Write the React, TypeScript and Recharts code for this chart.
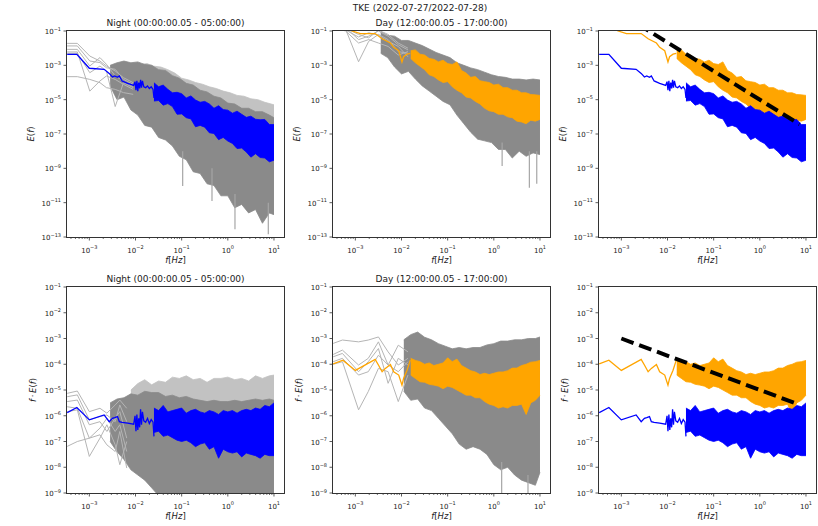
import { ComposedChart, Line, Area, XAxis, YAxis } from 'recharts';

// shared x range (Hz), 10^-3.48 .. 10^1.22
const F_MIN = 10 ** -3.484;
const F_MAX = 10 ** 1.217;

const xMajorExp = [-3, -2, -1, 0, 1];
const xMinorMult = [2, 3, 4, 5, 6, 7, 8, 9];
const topYTickExp = [-13, -11, -9, -7, -5, -3, -1];
const bottomYTickExp = [-9, -8, -7, -6, -5, -4, -3, -2, -1];

// ---- Night, E(f) ----
const nightGrayF = [-3.48, -3.26, -2.99, -2.77, -2.63, -2.44, -2.26, -2.05];
const nightGray1 = [-1.72, -1.72, -2.46, -2.75, -3.04, -3.33, -3.72, -4.01];
const nightGray2 = [-1.87, -1.87, -2.75, -2.84, -3.14, -3.23, -3.82, -4.11];
const nightGray3 = [-2.07, -2.07, -3.04, -2.55, -2.94, -3.62, -3.91, -4.24];
const nightGray4 = [-2.22, -2.22, -4.5, -3.91, -3.62, -3.82, -4.11, -4.4];
const nightGray5 = [-2.3, -2.3, -3.43, -3.04, -3.33, -5.4, -4.01, -4.3];
const nightGray6 = [-3.66, -3.66, -3.82, -4.01, -4.3, -4.4, -4.59, -4.69];

const nightLightF = [-2.05, -1.9, -1.75, -1.6, -1.45, -1.3, -1.15, -1.0, -0.85, -0.7, -0.55, -0.4, -0.25, -0.1, 0.05, 0.2, 0.35, 0.5, 0.65, 0.8, 1.0];
const nightLightHi = [-2.85, -2.95, -2.9, -3.05, -3.1, -3.25, -3.45, -3.75, -3.85, -4.0, -4.1, -4.25, -4.35, -4.5, -4.6, -4.75, -4.8, -4.95, -5.0, -5.15, -5.3];
const nightLightLo = [-4.2, -4.4, -4.6, -4.8, -4.9, -5.0, -5.2, -5.4, -5.5, -5.6, -5.7, -5.8, -5.9, -6.0, -6.05, -6.1, -6.2, -6.25, -6.3, -6.35, -6.44];

const nightDarkF = [-2.55, -2.4, -2.25, -2.1, -1.95, -1.8, -1.65, -1.5, -1.35, -1.2, -1.05, -0.9, -0.75, -0.6, -0.45, -0.3, -0.15, 0, 0.15, 0.3, 0.45, 0.6, 0.75, 0.9, 1.0];
const nightDarkHi = [-3.0, -2.85, -2.75, -2.85, -2.8, -2.95, -3.0, -3.25, -3.3, -3.6, -3.75, -4.05, -4.15, -4.45, -4.55, -4.8, -4.9, -5.2, -5.25, -5.5, -5.5, -5.7, -5.7, -5.9, -6.05];
const nightDarkLo = [-4.2, -5.0, -4.85, -5.6, -5.9, -6.5, -6.6, -7.2, -7.35, -7.7, -8.3, -8.5, -9.2, -9.3, -9.9, -10.0, -10.6, -10.6, -11.3, -11.1, -11.6, -11.4, -12.2, -11.6, -11.7];

const nightSpikeF = [-0.978, -0.343, 0.155, 0.877];
const nightSpikeTop = [-8.0, -9.0, -10.5, -11.0];
const nightSpikeBot = [-10.03, -10.9, -12.55, -12.84];

const blueF = [-3.48, -3.27, -3.0, -2.68, -2.57, -2.5, -2.45, -2.39, -2.35, -2.29, -2.17, -2.04, -2.01, -1.99, -1.97, -1.95, -1.93, -1.91, -1.89, -1.87, -1.85, -1.82, -1.78, -1.74, -1.7, -1.66, -1.62, -1.6];
const blueE = [-2.36, -2.36, -3.17, -3.23, -3.47, -3.68, -3.62, -3.7, -3.62, -3.91, -4.05, -4.17, -3.95, -4.45, -3.9, -4.5, -4.0, -4.35, -3.85, -4.3, -3.9, -4.25, -4.3, -4.2, -4.35, -4.25, -4.4, -4.9];
const blueBandF = [-1.6, -1.5, -1.4, -1.3, -1.2, -1.1, -1.0, -0.9, -0.8, -0.7, -0.6, -0.5, -0.4, -0.3, -0.2, -0.1, 0, 0.1, 0.2, 0.3, 0.4, 0.5, 0.6, 0.7, 0.8, 0.9, 1.0];
const blueBandHi = [-4.01, -4.25, -4.15, -4.4, -4.6, -4.57, -4.65, -4.9, -4.78, -5.02, -5.15, -5.1, -5.25, -5.5, -5.35, -5.58, -5.61, -5.79, -5.67, -5.85, -6.03, -5.96, -6.14, -6.17, -6.15, -6.45, -6.45];
const blueBandLo = [-5.08, -5.05, -5.32, -5.23, -5.4, -5.85, -5.83, -6.05, -6.12, -6.58, -6.5, -6.6, -6.93, -6.97, -7.33, -7.2, -7.41, -7.55, -7.85, -7.82, -8.05, -8.35, -8.15, -8.37, -8.4, -8.62, -8.53];

// ---- Day, E(f) ----
const dayGrayF = [-3.48, -3.21, -2.93, -2.71, -2.5, -2.29, -2.07, -1.86];
const dayGray1 = [-0.5, -0.9, -2.79, -1.6, -1.2, -1.5, -2.2, -2.3];
const dayGray2 = [-0.6, -0.8, -1.5, -1.3, -1.0, -1.3, -1.8, -2.1];
const dayGray3 = [-0.7, -0.95, -1.35, -1.1, -1.25, -1.6, -1.9, -2.5];
const dayGray4 = [-0.8, -1.0, -1.7, -1.5, -1.7, -1.9, -2.4, -2.2];
const dayGray5 = [-0.55, -0.85, -1.2, -1.4, -0.95, -1.2, -1.7, -2.0];

const dayDarkF = [-2.45, -2.3, -2.15, -2.0, -1.85, -1.7, -1.55, -1.4, -1.25, -1.1, -0.95, -0.8, -0.65, -0.5, -0.35, -0.2, -0.05, 0.1, 0.25, 0.4, 0.55, 0.7, 0.85, 1.0];
const dayDarkHi = [-1.05, -1.25, -1.3, -1.55, -1.55, -1.7, -1.85, -2.05, -2.25, -2.4, -2.55, -2.85, -3.0, -3.15, -3.25, -3.4, -3.55, -3.65, -3.7, -3.8, -3.8, -3.85, -3.8, -3.85];
const dayDarkLo = [-2.3, -2.55, -3.1, -3.5, -3.35, -3.8, -4.2, -4.5, -4.8, -5.1, -5.3, -5.9, -6.4, -6.9, -7.3, -7.4, -7.5, -7.9, -7.9, -8.4, -8.0, -8.3, -8.1, -8.2];

const daySpikeF = [0.18, 0.77, 0.93];
const daySpikeTop = [-7.5, -8.0, -8.0];
const daySpikeBot = [-8.86, -10.13, -9.9];

const orangeF = [-3.48, -3.27, -3.07, -2.89, -2.57, -2.42, -2.24, -2.17, -2.06, -1.99, -1.955, -1.88, -1.81];
const orangeE = [-0.6, -0.7, -1.0, -1.15, -1.15, -1.45, -1.7, -1.95, -2.15, -2.8, -2.5, -2.35, -2.3];
const orangeBandF = [-1.8, -1.7, -1.6, -1.5, -1.4, -1.3, -1.2, -1.1, -1.0, -0.9, -0.8, -0.7, -0.6, -0.5, -0.4, -0.3, -0.2, -0.1, 0, 0.1, 0.2, 0.3, 0.4, 0.5, 0.6, 0.7, 0.8, 0.9, 1.0];
const orangeBandHi = [-2.15, -2.1, -2.35, -2.4, -2.6, -2.65, -2.8, -2.7, -2.9, -2.95, -2.8, -3.3, -3.45, -3.7, -3.65, -3.9, -3.95, -4.0, -4.15, -4.1, -4.3, -4.3, -4.45, -4.45, -4.6, -4.6, -4.7, -4.72, -4.75];
const orangeBandLo = [-2.6, -2.85, -3.05, -3.25, -3.55, -3.65, -3.85, -4.0, -3.95, -4.25, -4.45, -4.6, -4.85, -4.9, -5.1, -5.25, -5.5, -5.65, -5.7, -5.85, -5.85, -6.0, -6.05, -6.25, -6.3, -6.4, -6.2, -6.25, -6.15];

// ---- Night, f*E(f) ----
const nightFEGrayF = [-3.48, -3.26, -3.0, -2.77, -2.62, -2.44, -2.34, -2.19];
const nightFEGray1 = [-5.13, -5.04, -5.84, -5.71, -5.9, -5.58, -5.39, -5.71];
const nightFEGray2 = [-5.26, -5.19, -6.16, -6.03, -5.97, -6.23, -5.58, -6.23];
const nightFEGray3 = [-5.45, -5.39, -6.35, -6.23, -6.61, -6.1, -5.84, -6.87];
const nightFEGray4 = [-5.65, -5.71, -6.87, -6.48, -6.1, -6.61, -6.35, -7.39];
const nightFEGray5 = [-5.84, -5.77, -7.58, -6.87, -6.35, -7.13, -7.9, -7.0];
const nightFEGray6 = [-7.19, -7.0, -6.87, -6.74, -7.13, -7.39, -6.61, -8.03];

const nightFELightF = [-2.1, -1.95, -1.8, -1.65, -1.5, -1.35, -1.2, -1.05, -0.9, -0.75, -0.6, -0.45, -0.3, -0.15, 0, 0.15, 0.3, 0.45, 0.6, 0.75, 0.9, 1.0];
const nightFELightHi = [-5.0, -4.75, -4.6, -4.8, -4.65, -4.7, -4.5, -4.55, -4.45, -4.6, -4.55, -4.7, -4.55, -4.55, -4.5, -4.6, -4.55, -4.65, -4.45, -4.55, -4.45, -4.42];
const nightFELightLo = [-5.6, -5.6, -5.6, -5.6, -5.6, -5.6, -5.6, -5.6, -5.6, -5.6, -5.6, -5.6, -5.6, -5.6, -5.6, -5.6, -5.6, -5.6, -5.6, -5.6, -5.6, -5.6];

const nightFEDarkF = [-2.55, -2.4, -2.25, -2.1, -1.95, -1.8, -1.65, -1.5, -1.35, -1.2, -1.05, -0.9, -0.75, -0.6, -0.45, -0.3, -0.15, 0, 0.15, 0.3, 0.45, 0.6, 0.75, 0.9, 1.0];
const nightFEDarkHi = [-5.5, -5.35, -5.3, -5.15, -5.2, -5.05, -5.1, -5.1, -5.25, -5.2, -5.3, -5.25, -5.35, -5.4, -5.45, -5.4, -5.45, -5.45, -5.4, -5.45, -5.4, -5.35, -5.4, -5.35, -5.4];
const nightFEDarkLo = [-7.0, -7.4, -7.7, -8.1, -8.3, -8.5, -8.8, -9.1, -9.3, -9.5, -9.5, -9.5, -9.5, -9.5, -9.5, -9.5, -9.5, -9.5, -9.5, -9.5, -9.5, -9.5, -9.5, -9.5, -9.5];

const blueFE = [-5.88, -5.68, -6.16, -5.97, -6.23, -6.1, -6.07, -6.03, -6.23, -6.26, -6.29, -6.33, -6.0, -6.6, -5.95, -6.55, -6.1, -6.45, -5.75, -6.35, -5.85, -6.2, -6.25, -6.1, -6.3, -6.15, -6.25, -6.8];
const blueFEBandHi = [-5.7, -5.8, -5.6, -5.85, -5.8, -5.75, -5.7, -5.9, -5.8, -5.75, -5.85, -5.9, -5.8, -5.85, -5.95, -5.8, -5.85, -5.8, -5.9, -5.8, -5.75, -5.8, -5.7, -5.75, -5.6, -5.65, -5.5];
const blueFEBandLo = [-6.65, -6.6, -6.8, -6.75, -6.85, -6.95, -7.0, -6.95, -7.05, -7.2, -7.1, -7.05, -7.3, -7.2, -7.65, -7.3, -7.4, -7.45, -7.4, -7.6, -7.45, -7.5, -7.55, -7.65, -7.5, -7.55, -7.55];

// ---- Day, f*E(f) ----
const dayFEGrayF = [-3.48, -3.28, -2.93, -2.72, -2.5, -2.29, -2.07, -1.86];
const dayFEGray1 = [-3.19, -3.06, -3.13, -3.06, -2.94, -3.52, -4.03, -3.77];
const dayFEGray2 = [-3.62, -3.45, -4.03, -3.77, -3.13, -4.03, -3.26, -3.52];
const dayFEGray3 = [-3.71, -3.58, -4.29, -3.9, -3.39, -4.74, -3.77, -4.03];
const dayFEGray4 = [-3.9, -3.77, -4.42, -4.29, -3.65, -4.03, -4.29, -3.9];
const dayFEGray5 = [-4.0, -3.9, -5.77, -5.06, -4.16, -4.29, -5.45, -4.42];

const dayFEDarkF = [-1.95, -1.8, -1.65, -1.5, -1.35, -1.2, -1.05, -0.9, -0.75, -0.6, -0.45, -0.3, -0.15, 0, 0.15, 0.3, 0.45, 0.6, 0.75, 0.9, 1.0];
const dayFEDarkHi = [-3.05, -2.85, -2.75, -2.95, -3.05, -3.2, -3.3, -3.4, -3.35, -3.4, -3.35, -3.35, -3.25, -3.2, -3.1, -3.1, -3.05, -3.05, -3.0, -3.0, -2.94];
const dayFEDarkLo = [-5.05, -5.4, -5.35, -5.7, -5.8, -6.1, -6.4, -6.7, -7.1, -7.3, -7.2, -7.3, -7.5, -7.9, -8.1, -8.0, -8.3, -8.5, -8.6, -8.7, -8.2];

const dayFESpikeF = [0.17, 0.74];
const dayFESpikeTop = [-7.8, -8.3];
const dayFESpikeBot = [-9.5, -9.5];

const orangeFEF = [-3.48, -3.27, -3.0, -2.57, -2.5, -2.42, -2.35, -2.24, -2.17, -2.06, -1.99, -1.955, -1.88, -1.81];
const orangeFE = [-3.99, -3.84, -4.24, -3.81, -4.03, -4.29, -4.16, -4.01, -4.29, -4.42, -4.81, -4.55, -4.23, -3.84];
const orangeFEBandHi = [-3.77, -3.85, -3.9, -4.0, -3.95, -4.05, -4.0, -3.95, -3.75, -3.9, -3.8, -4.05, -4.15, -4.25, -4.3, -4.4, -4.35, -4.4, -4.35, -4.3, -4.3, -4.25, -4.15, -4.15, -4.05, -4.0, -3.92, -3.9, -3.85];
const orangeFEBandLo = [-4.42, -4.55, -4.68, -4.7, -4.78, -4.81, -4.85, -4.95, -4.85, -4.9, -5.0, -5.1, -5.2, -5.2, -5.3, -5.3, -5.45, -5.55, -5.6, -5.7, -5.65, -5.7, -5.6, -5.6, -5.55, -5.95, -5.5, -5.4, -5.2];

// dashed reference lines (end points)
const refF = [-3.0, 0.857];
const refE = [0.0, -6.43];
const refFE = [-3.0, -5.57];

// ---- layout ----
const PLOT_W = 217;
const PLOT_H = 206;
const COL_X = [67, 333, 599];
const ROW_Y = [31, 287];
const PAD_L = 45;
const PAD_T = 5;
const PAD_R = 5;
const PAD_B = 22;

const GRAY_DARK = '#8a8a8a';
const GRAY_LIGHT = '#c2c2c2';
const GRAY_LINE = '#b5b5b5';
const GRAY_SPIKE = '#a6a6a6';
const BLUE = '#0000ff';
const ORANGE = '#ffa500';
const TXT = '#222';

const line = (lf: number[], lv: number[]) => lf.map((f, i) => ({ f: 10 ** f, v: 10 ** lv[i] }));
const band = (lf: number[], lo: number[], hi: number[]) =>
  lf.map((f, i) => ({ f: 10 ** f, v: [10 ** lo[i], 10 ** hi[i]] }));

const xTicks: number[] = [];
for (let k = -4; k <= 1; k++) {
  xTicks.push(10 ** k);
  for (const m of xMinorMult) xTicks.push(m * 10 ** k);
}
const xTicksInRange = xTicks.filter((v) => v >= F_MIN && v <= F_MAX).sort((a, b) => a - b);

const isMajor = (v: number) => Math.abs(Math.log10(v) - Math.round(Math.log10(v))) < 1e-6;
const expLabel = (v: number) => {
  const e = Math.round(Math.log10(v));
  return e < 0 ? '\u2212' + Math.abs(e) : String(e);
};

function XTick(props: any) {
  const { x, y, payload } = props;
  const v = payload.value;
  if (!isMajor(v) || !xMajorExp.includes(Math.round(Math.log10(v)))) {
    return <line x1={x} x2={x} y1={y} y2={y + 2} stroke="#333" strokeWidth={0.7} />;
  }
  return (
    <g>
      <line x1={x} x2={x} y1={y} y2={y + 3.5} stroke="#333" strokeWidth={0.8} />
      <text x={x} y={y + 15.5} textAnchor="middle" fontSize={7} fill={TXT} fontFamily="DejaVu Sans">
        10<tspan dy={-4} fontSize={5}>{expLabel(v)}</tspan>
      </text>
    </g>
  );
}

function YTick(props: any) {
  const { x, y, payload } = props;
  const v = payload.value;
  return (
    <g>
      <line x1={x - 3.5} x2={x} y1={y} y2={y} stroke="#333" strokeWidth={0.8} />
      <text x={x - 6} y={y + 3} textAnchor="end" fontSize={7} fill={TXT} fontFamily="DejaVu Sans">
        10<tspan dy={-3.5} fontSize={5}>{expLabel(v)}</tspan>
      </text>
    </g>
  );
}

type Layer = { kind: 'band' | 'line'; data: any[]; color: string; width?: number; dash?: string };

const grayLines = (lf: number[], rows: number[][]): Layer[] =>
  rows.map((r) => ({ kind: 'line', data: line(lf, r), color: GRAY_LINE, width: 1 }));

// thin vertical drops below the dense grey cloud
const spikes = (lf: number[], top: number[], bot: number[]): Layer[] =>
  lf.map((f, i) => ({ kind: 'line', data: line([f, f], [top[i], bot[i]]), color: GRAY_SPIKE, width: 1.2 }));

const blueLayers: Layer[] = [
  { kind: 'line', data: line(blueF, blueE), color: BLUE, width: 1.3 },
  { kind: 'band', data: band(blueBandF, blueBandLo, blueBandHi), color: BLUE },
];
const orangeLayers: Layer[] = [
  { kind: 'line', data: line(orangeF, orangeE), color: ORANGE, width: 1.3 },
  { kind: 'band', data: band(orangeBandF, orangeBandLo, orangeBandHi), color: ORANGE },
];
const blueFELayers: Layer[] = [
  { kind: 'line', data: line(blueF, blueFE), color: BLUE, width: 1.3 },
  { kind: 'band', data: band(blueBandF, blueFEBandLo, blueFEBandHi), color: BLUE },
];
const orangeFELayers: Layer[] = [
  { kind: 'line', data: line(orangeFEF, orangeFE), color: ORANGE, width: 1.3 },
  { kind: 'band', data: band(orangeBandF, orangeFEBandLo, orangeFEBandHi), color: ORANGE },
];

const NIGHT = 'Night (00:00:00.05 - 05:00:00)';
const DAY = 'Day (12:00:00.05 - 17:00:00)';

const panels: { col: number; row: number; title?: string; layers: Layer[] }[] = [
  {
    col: 0, row: 0, title: NIGHT,
    layers: [
      ...spikes(nightSpikeF, nightSpikeTop, nightSpikeBot),
      { kind: 'band', data: band(nightLightF, nightLightLo, nightLightHi), color: GRAY_LIGHT },
      { kind: 'band', data: band(nightDarkF, nightDarkLo, nightDarkHi), color: GRAY_DARK },
      ...grayLines(nightGrayF, [nightGray1, nightGray2, nightGray3, nightGray4, nightGray5, nightGray6]),
      ...blueLayers,
    ],
  },
  {
    col: 1, row: 0, title: DAY,
    layers: [
      ...spikes(daySpikeF, daySpikeTop, daySpikeBot),
      { kind: 'band', data: band(dayDarkF, dayDarkLo, dayDarkHi), color: GRAY_DARK },
      ...grayLines(dayGrayF, [dayGray1, dayGray2, dayGray3, dayGray4, dayGray5]),
      ...orangeLayers,
    ],
  },
  {
    col: 2, row: 0,
    layers: [
      ...orangeLayers,
      ...blueLayers,
      { kind: 'line', data: line(refF, refE), color: '#000', width: 4, dash: '13 6' },
    ],
  },
  {
    col: 0, row: 1, title: NIGHT,
    layers: [
      { kind: 'band', data: band(nightFELightF, nightFELightLo, nightFELightHi), color: GRAY_LIGHT },
      { kind: 'band', data: band(nightFEDarkF, nightFEDarkLo, nightFEDarkHi), color: GRAY_DARK },
      ...grayLines(nightFEGrayF, [nightFEGray1, nightFEGray2, nightFEGray3, nightFEGray4, nightFEGray5, nightFEGray6]),
      ...blueFELayers,
    ],
  },
  {
    col: 1, row: 1, title: DAY,
    layers: [
      ...spikes(dayFESpikeF, dayFESpikeTop, dayFESpikeBot),
      { kind: 'band', data: band(dayFEDarkF, dayFEDarkLo, dayFEDarkHi), color: GRAY_DARK },
      ...grayLines(dayFEGrayF, [dayFEGray1, dayFEGray2, dayFEGray3, dayFEGray4, dayFEGray5]),
      ...orangeFELayers,
    ],
  },
  {
    col: 2, row: 1,
    layers: [
      ...orangeFELayers,
      ...blueFELayers,
      { kind: 'line', data: line(refF, refFE), color: '#000', width: 4, dash: '13 6' },
    ],
  },
];

const centered = (x: number, y: number, extra: any = {}) => ({
  position: 'absolute' as const,
  left: x,
  top: y,
  transform: 'translate(-50%, -50%)',
  whiteSpace: 'nowrap' as const,
  lineHeight: 1,
  ...extra,
});

function Panel({ col, row, title, layers }: { col: number; row: number; title?: string; layers: Layer[] }) {
  const left = COL_X[col];
  const top = ROW_Y[row];
  const yTicks = (row === 0 ? topYTickExp : bottomYTickExp).map((e) => 10 ** e);
  const yDomain = row === 0 ? [1e-13, 1e-1] : [1e-9, 1e-1];
  const cx = left + PLOT_W / 2;
  const cy = top + PLOT_H / 2;
  return (
    <>
      <div style={{ position: 'absolute', left: left - PAD_L, top: top - PAD_T }}>
        <ComposedChart
          width={PLOT_W + PAD_L + PAD_R}
          height={PLOT_H + PAD_T + PAD_B}
          margin={{ top: PAD_T, right: PAD_R, left: 0, bottom: 0 }}
        >
          <XAxis
            type="number"
            dataKey="f"
            scale="log"
            domain={[F_MIN, F_MAX]}
            allowDataOverflow
            ticks={xTicksInRange}
            interval={0}
            tick={XTick}
            tickLine={false}
            axisLine={false}
            tickSize={0}
            tickMargin={0}
            height={PAD_B}
          />
          <YAxis
            type="number"
            scale="log"
            domain={yDomain}
            allowDataOverflow
            ticks={yTicks}
            interval={0}
            tick={YTick}
            tickLine={false}
            axisLine={false}
            tickSize={0}
            tickMargin={0}
            width={PAD_L}
          />
          {layers.map((l, i) =>
            l.kind === 'band' ? (
              <Area
                key={i}
                data={l.data}
                dataKey="v"
                type="linear"
                stroke={l.color}
                strokeWidth={0.8}
                fill={l.color}
                fillOpacity={1}
                dot={false}
                activeDot={false}
                isAnimationActive={false}
              />
            ) : (
              <Line
                key={i}
                data={l.data}
                dataKey="v"
                type="linear"
                stroke={l.color}
                strokeWidth={l.width}
                strokeDasharray={l.dash}
                dot={false}
                activeDot={false}
                isAnimationActive={false}
              />
            )
          )}
        </ComposedChart>
      </div>
      <div
        style={{
          position: 'absolute',
          left: left - 1,
          top: top - 1,
          width: PLOT_W + 2,
          height: PLOT_H + 2,
          border: '1px solid #333',
          boxSizing: 'border-box',
          pointerEvents: 'none',
        }}
      />
      {title && <div style={centered(cx, top - 8, { fontSize: 9 })}>{title}</div>}
      <div style={centered(cx, top + PLOT_H + 23, { fontSize: 8.5 })}>
        <i>f</i>[<i>Hz</i>]
      </div>
      <div
        style={centered(row === 0 ? left - 36 : left - 34, cy, {
          fontSize: 8.5,
          transform: 'translate(-50%, -50%) rotate(-90deg)',
        })}
      >
        {row === 0 ? (
          <>
            <i>E</i>(<i>f</i>)
          </>
        ) : (
          <>
            <i>f</i>{'\u2009\u00b7\u2009'}<i>E</i>(<i>f</i>)
          </>
        )}
      </div>
    </>
  );
}

export default function App() {
  return (
    <div
      style={{
        position: 'absolute',
        left: 0,
        top: 0,
        width: 818,
        height: 526,
        background: '#fff',
        overflow: 'hidden',
        fontFamily: '"DejaVu Sans", sans-serif',
        color: TXT,
      }}
    >
      <div style={centered(420, 8, { fontSize: 9 })}>TKE (2022-07-27/2022-07-28)</div>
      {panels.map((p, i) => (
        <Panel key={i} {...p} />
      ))}
    </div>
  );
}
